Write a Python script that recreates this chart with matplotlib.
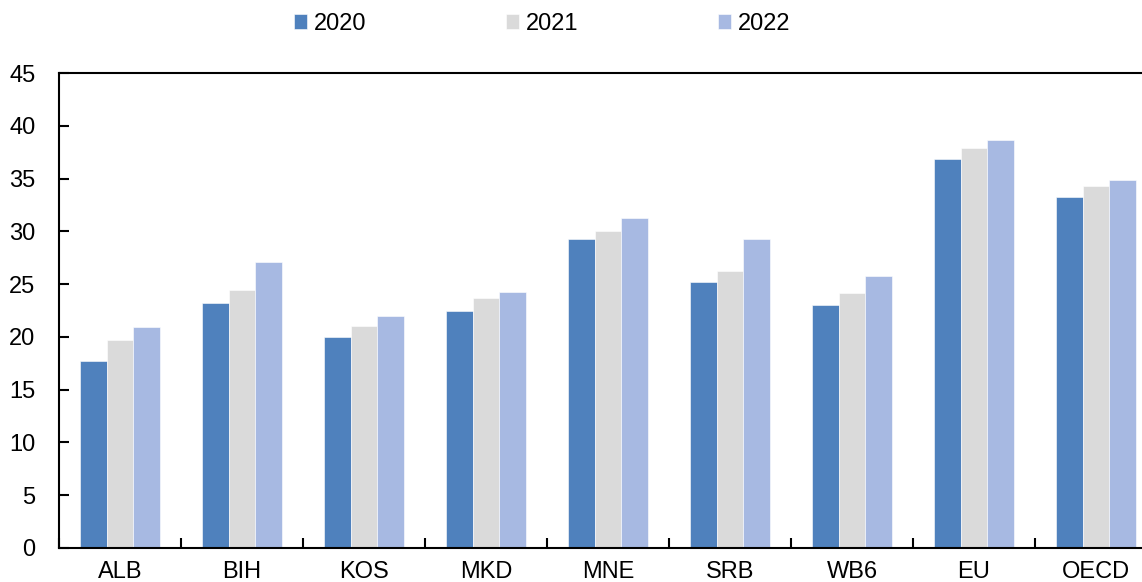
import numpy as np
import matplotlib.pyplot as plt

plt.rcParams["font.family"] = ["Liberation Sans", "DejaVu Sans"]

categories = ["ALB", "BIH", "KOS", "MKD", "MNE", "SRB", "WB6", "EU", "OECD"]
years = ["2020", "2021", "2022"]
v2020 = [17.7, 23.2, 20.0, 22.5, 29.3, 25.2, 23.0, 36.9, 33.3]
v2021 = [19.7, 24.4, 21.0, 23.7, 30.0, 26.2, 24.2, 37.9, 34.3]
v2022 = [20.9, 27.1, 22.0, 24.3, 31.3, 29.3, 25.8, 38.7, 34.9]
colors = ["#4F81BD", "#DADADA", "#A7B9E2"]

fig = plt.figure(figsize=(11.42, 5.82), dpi=100)
# plot area runs past the right edge of the picture, as in the original crop
ax = fig.add_axes([59 / 1142, 34 / 582, 1098 / 1142, 475 / 582])

x = np.arange(len(categories))
w = 0.22
for i, (vals, c, lab) in enumerate(zip([v2020, v2021, v2022], colors, years)):
    ax.bar(x + (i - 1) * w, vals, width=w, color=c, label=lab,
           edgecolor="white", linewidth=0.4)

ax.set_xlim(-0.5, len(categories) - 0.5)
ax.set_ylim(0, 45)
ax.set_yticks(range(0, 46, 5))
ax.set_xticks(x)
ax.set_xticklabels(categories)
ax.set_xticks(np.arange(-0.5, len(categories), 1), minor=True)

ax.tick_params(axis="y", direction="in", length=7, width=1.5, labelsize=17, pad=17)
ax.tick_params(axis="x", which="major", length=0, labelsize=17, pad=9)
ax.tick_params(axis="x", which="minor", direction="in", length=7, width=1.5)

for s in ["left", "bottom", "top"]:
    ax.spines[s].set_linewidth(1.5)
ax.spines["right"].set_visible(False)

ax.legend(loc="center", bbox_to_anchor=(542 / 1142, 1 - 24 / 582),
          bbox_transform=fig.transFigure, ncol=3, frameon=False,
          fontsize=17, handlelength=0.55, handleheight=0.6,
          handletextpad=0.3, columnspacing=5.9)

fig.savefig("out.png", dpi=100)
